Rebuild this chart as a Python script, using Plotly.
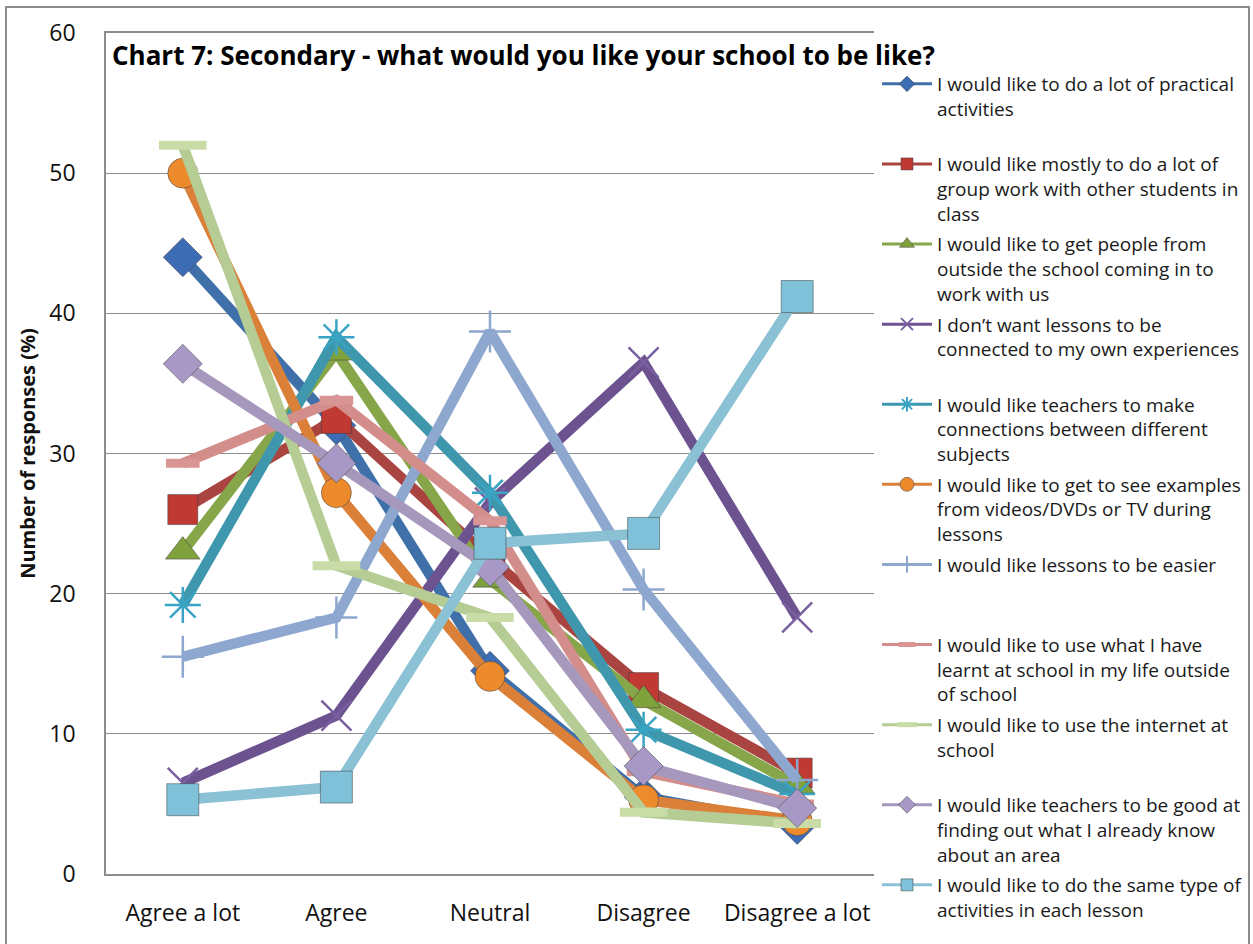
import plotly.graph_objects as go

categories = ["Agree a lot", "Agree", "Neutral", "Disagree", "Disagree a lot"]

series_names = [
    "I would like to do a lot of practical<br>activities<br> ",
    "I would like mostly to do a lot of<br>group work with other students in<br>class",
    "I would like to get people from<br>outside the school coming in to<br>work with us",
    "I don\u2019t want lessons to be<br>connected to my own experiences<br> ",
    "I would like teachers to make<br>connections between different<br>subjects",
    "I would like to get to see examples<br>from videos/DVDs or TV during<br>lessons",
    "I would like lessons to be easier<br> <br> ",
    "I would like to use what I have<br>learnt at school in my life outside<br>of school",
    "I would like to use the internet at<br>school<br> ",
    "I would like teachers to be good at<br>finding out what I already know<br>about an area",
    "I would like to do the same type of<br>activities in each lesson",
]

practical = [44, 32, 14.5, 5.5, 3.5]
group_work = [26, 32.5, 22.5, 13.3, 7.2]
outside_people = [23, 37.2, 21, 12.4, 6.3]
not_connected = [6.5, 11.3, 26.5, 36.5, 18.3]
connections = [19.2, 38.3, 27.2, 10.3, 5.7]
videos = [50, 27.2, 14.1, 5.3, 3.8]
easier = [15.5, 18.3, 38.7, 20.3, 6.7]
use_outside = [29.3, 33.8, 25.2, 7.3, 5.0]
internet = [52, 22, 18.3, 4.4, 3.6]
find_out = [36.4, 29.3, 21.9, 7.7, 4.7]
same_type = [5.3, 6.2, 23.6, 24.3, 41.2]

values = [practical, group_work, outside_people, not_connected, connections,
          videos, easier, use_outside, internet, find_out, same_type]

line_colors = ["#4070AA", "#A94441", "#87A64A", "#6C5390", "#3F97AE",
               "#DB8039", "#8EA7CE", "#D38E8C", "#B5CD94", "#A698BC", "#8BC1D4"]
marker_colors = ["#3C6CB4", "#C03A33", "#7FA23D", "#7A5FA0", "#3AA4C4",
                 "#EC8A2C", "#8EA7CE", "#D99494", "#C9DCA8", "#A898C6", "#7FC1D8"]
symbols = ["diamond", "square", "triangle-up", "x-thin-open", "asterisk-open",
           "circle", "cross-thin-open", "line-ew-open", "line-ew-open", "diamond", "square"]
plot_sizes = [30, 30, 30, 30, 30, 30, 30, 24, 34, 30, 32]
legend_sizes = [12, 12, 13, 12, 12, 14, 12, 12, 14, 13, 12]

FONT = "'Open Sans', Lato, sans-serif"

fig = go.Figure()

for i, vals in enumerate(values):
    sym = symbols[i]
    is_open = sym.endswith("-open")
    if sym == "line-ew-open":
        mline = dict(width=9, color=marker_colors[i])
    elif is_open:
        mline = dict(width=2.5, color=marker_colors[i])
    else:
        mline = dict(width=1, color="rgba(60,60,60,0.5)")
    fig.add_trace(go.Scatter(
        x=categories, y=vals, mode="lines+markers",
        line=dict(color=line_colors[i], width=10.5),
        marker=dict(symbol=sym, size=plot_sizes[i], color=marker_colors[i], line=mline),
        showlegend=False, hoverinfo="skip",
    ))

for i in range(len(values)):
    sym = symbols[i]
    is_open = sym.endswith("-open")
    if sym == "line-ew-open":
        mline = dict(width=5, color=marker_colors[i])
    elif is_open:
        mline = dict(width=2, color=marker_colors[i])
    else:
        mline = dict(width=1, color="rgba(60,60,60,0.5)")
    fig.add_trace(go.Scatter(
        x=[None], y=[None], mode="lines+markers", name=series_names[i],
        legendgroup=f"g{i}",
        line=dict(color=line_colors[i], width=3),
        marker=dict(symbol=sym, size=legend_sizes[i], color=marker_colors[i], line=mline),
    ))

L, R, T, B = 106, 874, 33, 874
W, H = 1253, 944
pw = R - L

def px(x):
    return (x - L) / pw

def py(y):
    return (H - y) / H

fig.update_layout(
    width=W, height=H,
    margin=dict(l=L, r=W - R, t=0, b=0, pad=0, autoexpand=False),
    paper_bgcolor="white", plot_bgcolor="white",
    font=dict(family=FONT, size=19, color="#111111"),
    showlegend=True,
    legend=dict(
        x=px(877), y=py(65), xanchor="left", yanchor="top",
        font=dict(family=FONT, size=19, color="#1a1a1a"),
        tracegroupgap=3, valign="top", itemwidth=50,
        bgcolor="rgba(0,0,0,0)",
    ),
    xaxis=dict(
        type="category", range=[-0.5, 4.5],
        showline=True, linecolor="#8C8C8C", linewidth=1.5, mirror=True,
        showgrid=False, ticks="", tickfont=dict(family=FONT, size=23, color="#111111"),
        ticklabelstandoff=18,
    ),
    yaxis=dict(
        domain=[(H - B) / H, (H - T) / H],
        range=[0, 60], dtick=10, tick0=0,
        showline=True, linecolor="#8C8C8C", linewidth=1.5,
        showgrid=True, gridcolor="#8C8C8C", gridwidth=1,
        zeroline=False, ticks="", tickfont=dict(family=FONT, size=23, color="#111111"),
        ticklabelstandoff=24,
        title=dict(text="<b>Number of responses (%)</b>",
                   font=dict(family=FONT, size=20, color="#111111"), standoff=8),
    ),
    shapes=[dict(
        type="rect", xref="paper", yref="paper",
        x0=px(6), x1=px(1249), y0=py(960), y1=py(7),
        line=dict(color="#8C8C8C", width=2), fillcolor="rgba(0,0,0,0)", layer="below",
    )],
    annotations=[dict(
        text="<b>Chart 7: Secondary - what would you like your school to be like?</b>",
        xref="paper", yref="paper", x=px(110), y=py(55),
        xanchor="left", yanchor="middle", showarrow=False,
        font=dict(family=FONT, size=26, color="#000000"),
    )],
)

fig.write_html(
    "out.html",
    config={"displayModeBar": False},
    post_script="document.body.style.margin='0';document.body.style.padding='0';",
)
